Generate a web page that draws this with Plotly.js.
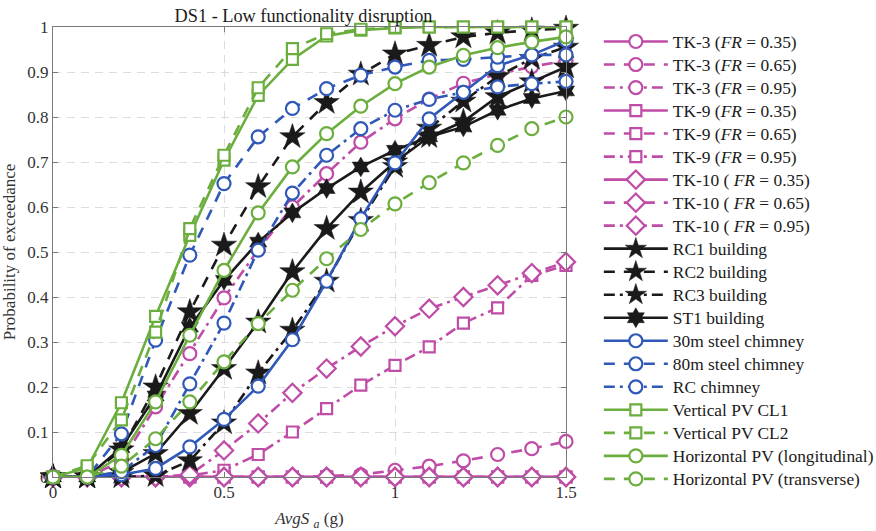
<!DOCTYPE html>
<html>
<head>
<meta charset="utf-8">
<script src="https://cdn.plot.ly/plotly-3.0.1.min.js"></script>
<style>html,body{margin:0;padding:0;background:#fff;}#chart{width:876px;height:531px;}</style>
</head>
<body>
<div id="chart"></div>
<script>
const xVals = [0,0.1,0.2,0.3,0.4,0.5,0.6,0.7,0.8,0.9,1.0,1.1,1.2,1.3,1.4,1.5];

const seriesNames = [
  "TK-3 (<i>FR</i> = 0.35)", "TK-3 (<i>FR</i> = 0.65)", "TK-3 (<i>FR</i> = 0.95)",
  "TK-9 (<i>FR</i> = 0.35)", "TK-9 (<i>FR</i> = 0.65)", "TK-9 (<i>FR</i> = 0.95)",
  "TK-10 ( <i>FR</i> = 0.35)", "TK-10 ( <i>FR</i> = 0.65)", "TK-10 ( <i>FR</i> = 0.95)",
  "RC1 building", "RC2 building", "RC3 building", "ST1 building",
  "30m steel chimney", "80m steel chimney", "RC chimney",
  "Vertical PV CL1", "Vertical PV CL2",
  "Horizontal PV (longitudinal)", "Horizontal PV (transverse)"
];

const tk3_035 = [0,0,0,0,0,0,0,0,0,0,0,0,0,0,0,0];
const tk3_065 = [0,0,0,0,0,0,0,0,0.002,0.005,0.015,0.024,0.036,0.05,0.063,0.079];
const tk3_095 = [0,0,0.035,0.156,0.274,0.398,0.505,0.60,0.674,0.744,0.796,0.84,0.875,0.895,0.912,0.925];
const tk9_035 = [0,0,0,0,0,0,0,0,0,0,0,0,0,0,0,0];
const tk9_065 = [0,0,0,0,0,0,0,0,0,0,0,0,0,0,0,0];
const tk9_095 = [0,0,0,0,0.003,0.015,0.05,0.10,0.152,0.204,0.248,0.289,0.342,0.376,0.448,0.47];
const tk10_035 = [0,0,0,0,0,0,0,0,0,0,0,0,0,0,0,0];
const tk10_065 = [0,0,0,0,0,0,0,0,0,0,0,0,0,0,0,0];
const tk10_095 = [0,0,0,0,0.005,0.059,0.119,0.187,0.241,0.29,0.335,0.374,0.40,0.426,0.453,0.478];
const rc1 = [0,0,0.01,0.052,0.141,0.241,0.344,0.456,0.552,0.633,0.70,0.756,0.79,0.845,0.878,0.911];
const rc2 = [0,0,0.06,0.2,0.367,0.515,0.645,0.756,0.832,0.895,0.94,0.959,0.978,0.987,0.993,0.997];
const rc3 = [0,0,0,0.003,0.036,0.12,0.231,0.326,0.435,0.57,0.69,0.775,0.835,0.89,0.93,0.955];
const st1 = [0,0,0.065,0.18,0.333,0.437,0.522,0.587,0.641,0.689,0.726,0.756,0.778,0.815,0.841,0.858];
const ch30 = [0,0,0.005,0.019,0.067,0.128,0.202,0.305,0.435,0.574,0.698,0.796,0.855,0.914,0.938,0.97];
const ch80 = [0,0,0.096,0.304,0.493,0.652,0.756,0.819,0.863,0.893,0.911,0.926,0.928,0.933,0.938,0.938];
const chRC = [0,0,0.012,0.07,0.207,0.342,0.504,0.631,0.715,0.774,0.815,0.839,0.855,0.867,0.874,0.879];
const pvCL1 = [0,0.02,0.165,0.357,0.537,0.704,0.848,0.928,0.98,0.993,0.998,1,1,1,1,1];
const pvCL2 = [0,0.025,0.127,0.322,0.552,0.715,0.865,0.952,0.985,0.995,0.999,1,1,1,1,1];
const pvLong = [0,0,0.048,0.167,0.315,0.459,0.587,0.689,0.763,0.824,0.874,0.911,0.937,0.954,0.967,0.978];
const pvTrans = [0,0,0.024,0.085,0.167,0.256,0.341,0.415,0.485,0.55,0.607,0.654,0.698,0.737,0.774,0.80];

const allSeries = [tk3_035,tk3_065,tk3_095,tk9_035,tk9_065,tk9_095,tk10_035,tk10_065,tk10_095,
  rc1,rc2,rc3,st1,ch30,ch80,chRC,pvCL1,pvCL2,pvLong,pvTrans];

const MAG = "#BF4CA6", BLU = "#2F58B8", BLK = "#1A1A1A", GRN = "#6BAE3E";
const DASH = "11px,9px", DASHDOT = "11px,5px,3px,5px";
const styles = [
  [MAG,"solid","circle"],[MAG,DASH,"circle"],[MAG,DASHDOT,"circle"],
  [MAG,"solid","square"],[MAG,DASH,"square"],[MAG,DASHDOT,"square"],
  [MAG,"solid","diamond"],[MAG,DASH,"diamond"],[MAG,DASHDOT,"diamond"],
  [BLK,"solid","star"],[BLK,DASH,"star"],[BLK,DASHDOT,"star"],[BLK,"solid","hexagram"],
  [BLU,"solid","circle"],[BLU,DASH,"circle"],[BLU,DASHDOT,"circle"],
  [GRN,"solid","square"],[GRN,DASH,"square"],
  [GRN,"solid","circle"],[GRN,DASH,"circle"]
];

const traces = allSeries.map((ys,i)=>{
  const [c,d,s] = styles[i];
  const filled = (s==="star"||s==="hexagram");
  let size = 13;
  if (s==="square") size = 11;
  if (s==="diamond") size = 14;
  if (s==="star") size = 19;
  if (s==="hexagram") size = 15;
  return {
    x: xVals, y: ys, name: '<span style="font-size:17.4px">' + seriesNames[i] + '</span>',
    type: "scatter", mode: "lines+markers",
    cliponaxis: false,
    line: {color: c, width: 2.6, dash: d},
    marker: {symbol: s, size: size, color: filled ? c : "#ffffff",
             line: {color: c, width: filled ? 0.5 : 2.2}}
  };
});

const SERIF = "Liberation Serif, Times New Roman, serif";
const layout = {
  width: 876, height: 531,
  margin: {l: 53, r: 310, t: 27, b: 54, autoexpand: false},
  paper_bgcolor: "#ffffff", plot_bgcolor: "#ffffff",
  font: {family: SERIF, size: 15, color: "#262626"},
  title: {text: "DS1 - Low functionality disruption", x: 0.3465, xanchor: "center",
          y: 0.971, yanchor: "middle", yref: "container",
          font: {family: SERIF, size: 18.3, color: "#1a1a1a"}},
  xaxis: {range: [0,1.5], tickvals: [0,0.5,1,1.5], ticktext: ["0","0.5","1","1.5"],
          automargin: false,
          showgrid: true, gridcolor: "#dcdcdc", griddash: "8px,6px", gridwidth: 1,
          zeroline: false, showline: true, linecolor: "#7a7a7a", linewidth: 1, mirror: "ticks",
          ticks: "inside", ticklen: 5, tickcolor: "#7a7a7a",
          tickfont: {family: SERIF, size: 17, color: "#333"},
          title: {text: "<i>AvgS</i> <sub><i>a</i></sub> (g)", standoff: 11,
                  font: {family: SERIF, size: 17, color: "#333"}}},
  yaxis: {range: [0,1], tickvals: [0,0.1,0.2,0.3,0.4,0.5,0.6,0.7,0.8,0.9,1],
          ticktext: ["0","0.1","0.2","0.3","0.4","0.5","0.6","0.7","0.8","0.9","1"],
          automargin: false,
          showgrid: true, gridcolor: "#dcdcdc", griddash: "8px,6px", gridwidth: 1,
          zeroline: false, showline: true, linecolor: "#7a7a7a", linewidth: 1, mirror: "ticks",
          ticks: "inside", ticklen: 5, tickcolor: "#7a7a7a",
          tickfont: {family: SERIF, size: 17, color: "#333"},
          title: {text: "Probability of exceedance", standoff: 7,
                  font: {family: SERIF, size: 17, color: "#333"}}},
  legend: {x: 1.064, xanchor: "left", y: 1.0045, yanchor: "top", maxheight: 1,
           font: {family: SERIF, size: 15.4, color: "#1a1a1a"},
           bgcolor: "rgba(255,255,255,0)", borderwidth: 0, itemwidth: 64},
  showlegend: true
};

Plotly.newPlot("chart", traces, layout, {displayModeBar: false, staticPlot: true});
</script>
</body>
</html>
